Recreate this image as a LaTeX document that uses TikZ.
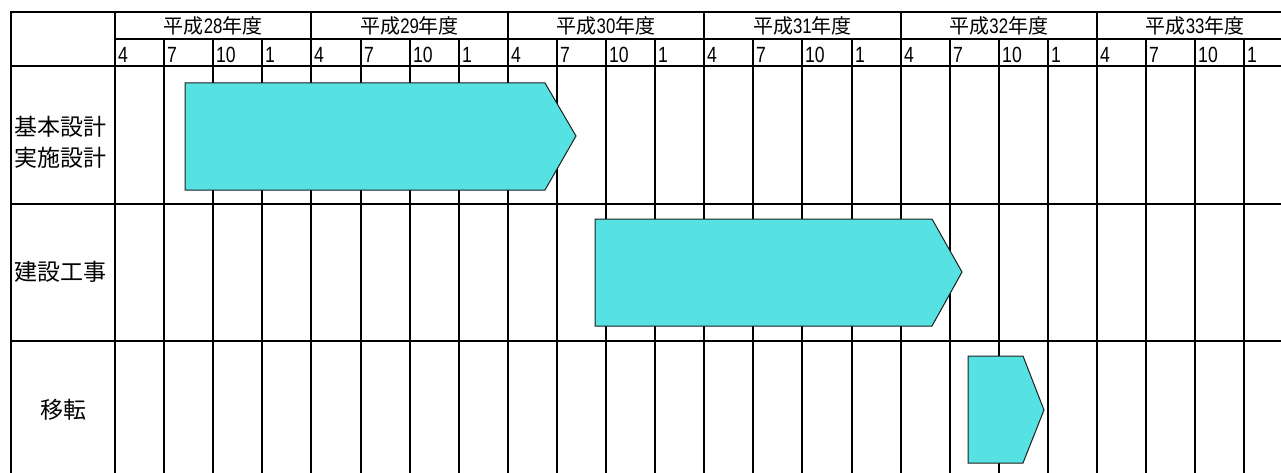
\documentclass[tikz,border=0pt]{standalone}
\usepackage{fontspec}
\setmainfont{Noto Sans CJK JP}
\newfontfamily\digitfont[FakeStretch=0.8]{Liberation Sans}
\definecolor{barfill}{RGB}{86,225,226}
\definecolor{barline}{RGB}{30,30,30}
\begin{document}
\begin{tikzpicture}[x=1pt,y=-1pt,
  grid/.style={line width=2pt,black},
  bar/.style={fill=barfill,draw=barline,line width=1pt,line join=miter},
  yeartxt/.style={font=\fontsize{20}{20}\selectfont,inner sep=0pt,anchor=base},
  monthtxt/.style={font=\digitfont\fontsize{22}{22}\selectfont,inner sep=0pt,anchor=base west},
  labeltxt/.style={font=\fontsize{23}{31}\selectfont,inner sep=0pt,align=left}]
\useasboundingbox (0,0) rectangle (1281,473);
\begin{scope}
\clip (0,0) rectangle (1281,473);
% horizontal lines
\draw[grid] (11,12) -- (1290,12);
\draw[grid] (115,39) -- (1290,39);
\draw[grid] (11,66) -- (1290,66);
\draw[grid] (11,204) -- (1290,204);
\draw[grid] (11,341) -- (1290,341);
% vertical lines
\draw[grid] (11,11) -- (11,480);
\foreach \k in {0,...,23}{
  \pgfmathsetmacro{\xx}{round(115+\k*49.1)}
  \pgfmathtruncatemacro{\m}{mod(\k,4)}
  \ifnum\m=0
    \draw[grid] (\xx,11) -- (\xx,480);
  \else
    \draw[grid] (\xx,39) -- (\xx,480);
  \fi
}
% year labels
\foreach \yr [count=\i from 0] in {28,29,30,31,32,33}{
  \pgfmathsetmacro{\xc}{115+(\i*4+2)*49.1}
  \node[yeartxt] (yr\yr) at (\xc,33.5) {平成{\digitfont\fontsize{21}{21}\selectfont\yr}年度};
}
% month labels
\foreach \k in {0,...,23}{
  \pgfmathsetmacro{\xx}{round(115+\k*49.1)+3}
  \pgfmathtruncatemacro{\m}{mod(\k,4)}
  \ifcase\m
    \node[monthtxt] (m\k) at (\xx,62.5) {4};
  \or
    \node[monthtxt] (m\k) at (\xx,62.5) {7};
  \or
    \node[monthtxt] (m\k) at (\xx,62.5) {10};
  \or
    \node[monthtxt] (m\k) at (\xx,62.5) {1};
  \fi
}
% bars
\draw[bar] (185,83) -- (545,83) -- (576,136) -- (545,190) -- (185,190) -- cycle;
\draw[bar] (595,219) -- (932,219) -- (962,272) -- (932,326) -- (595,326) -- cycle;
\draw[bar] (968,356) -- (1023,356) -- (1044,410) -- (1023,463) -- (968,463) -- cycle;
\end{scope}
% row labels
\node[labeltxt,anchor=west] (lab1) at (14,142) {基本設計\\実施設計};
\node[labeltxt,anchor=west] (lab2) at (14,272) {建設工事};
\node[labeltxt,anchor=center] (lab3) at (63,410) {移転};
\end{tikzpicture}
\end{document}
